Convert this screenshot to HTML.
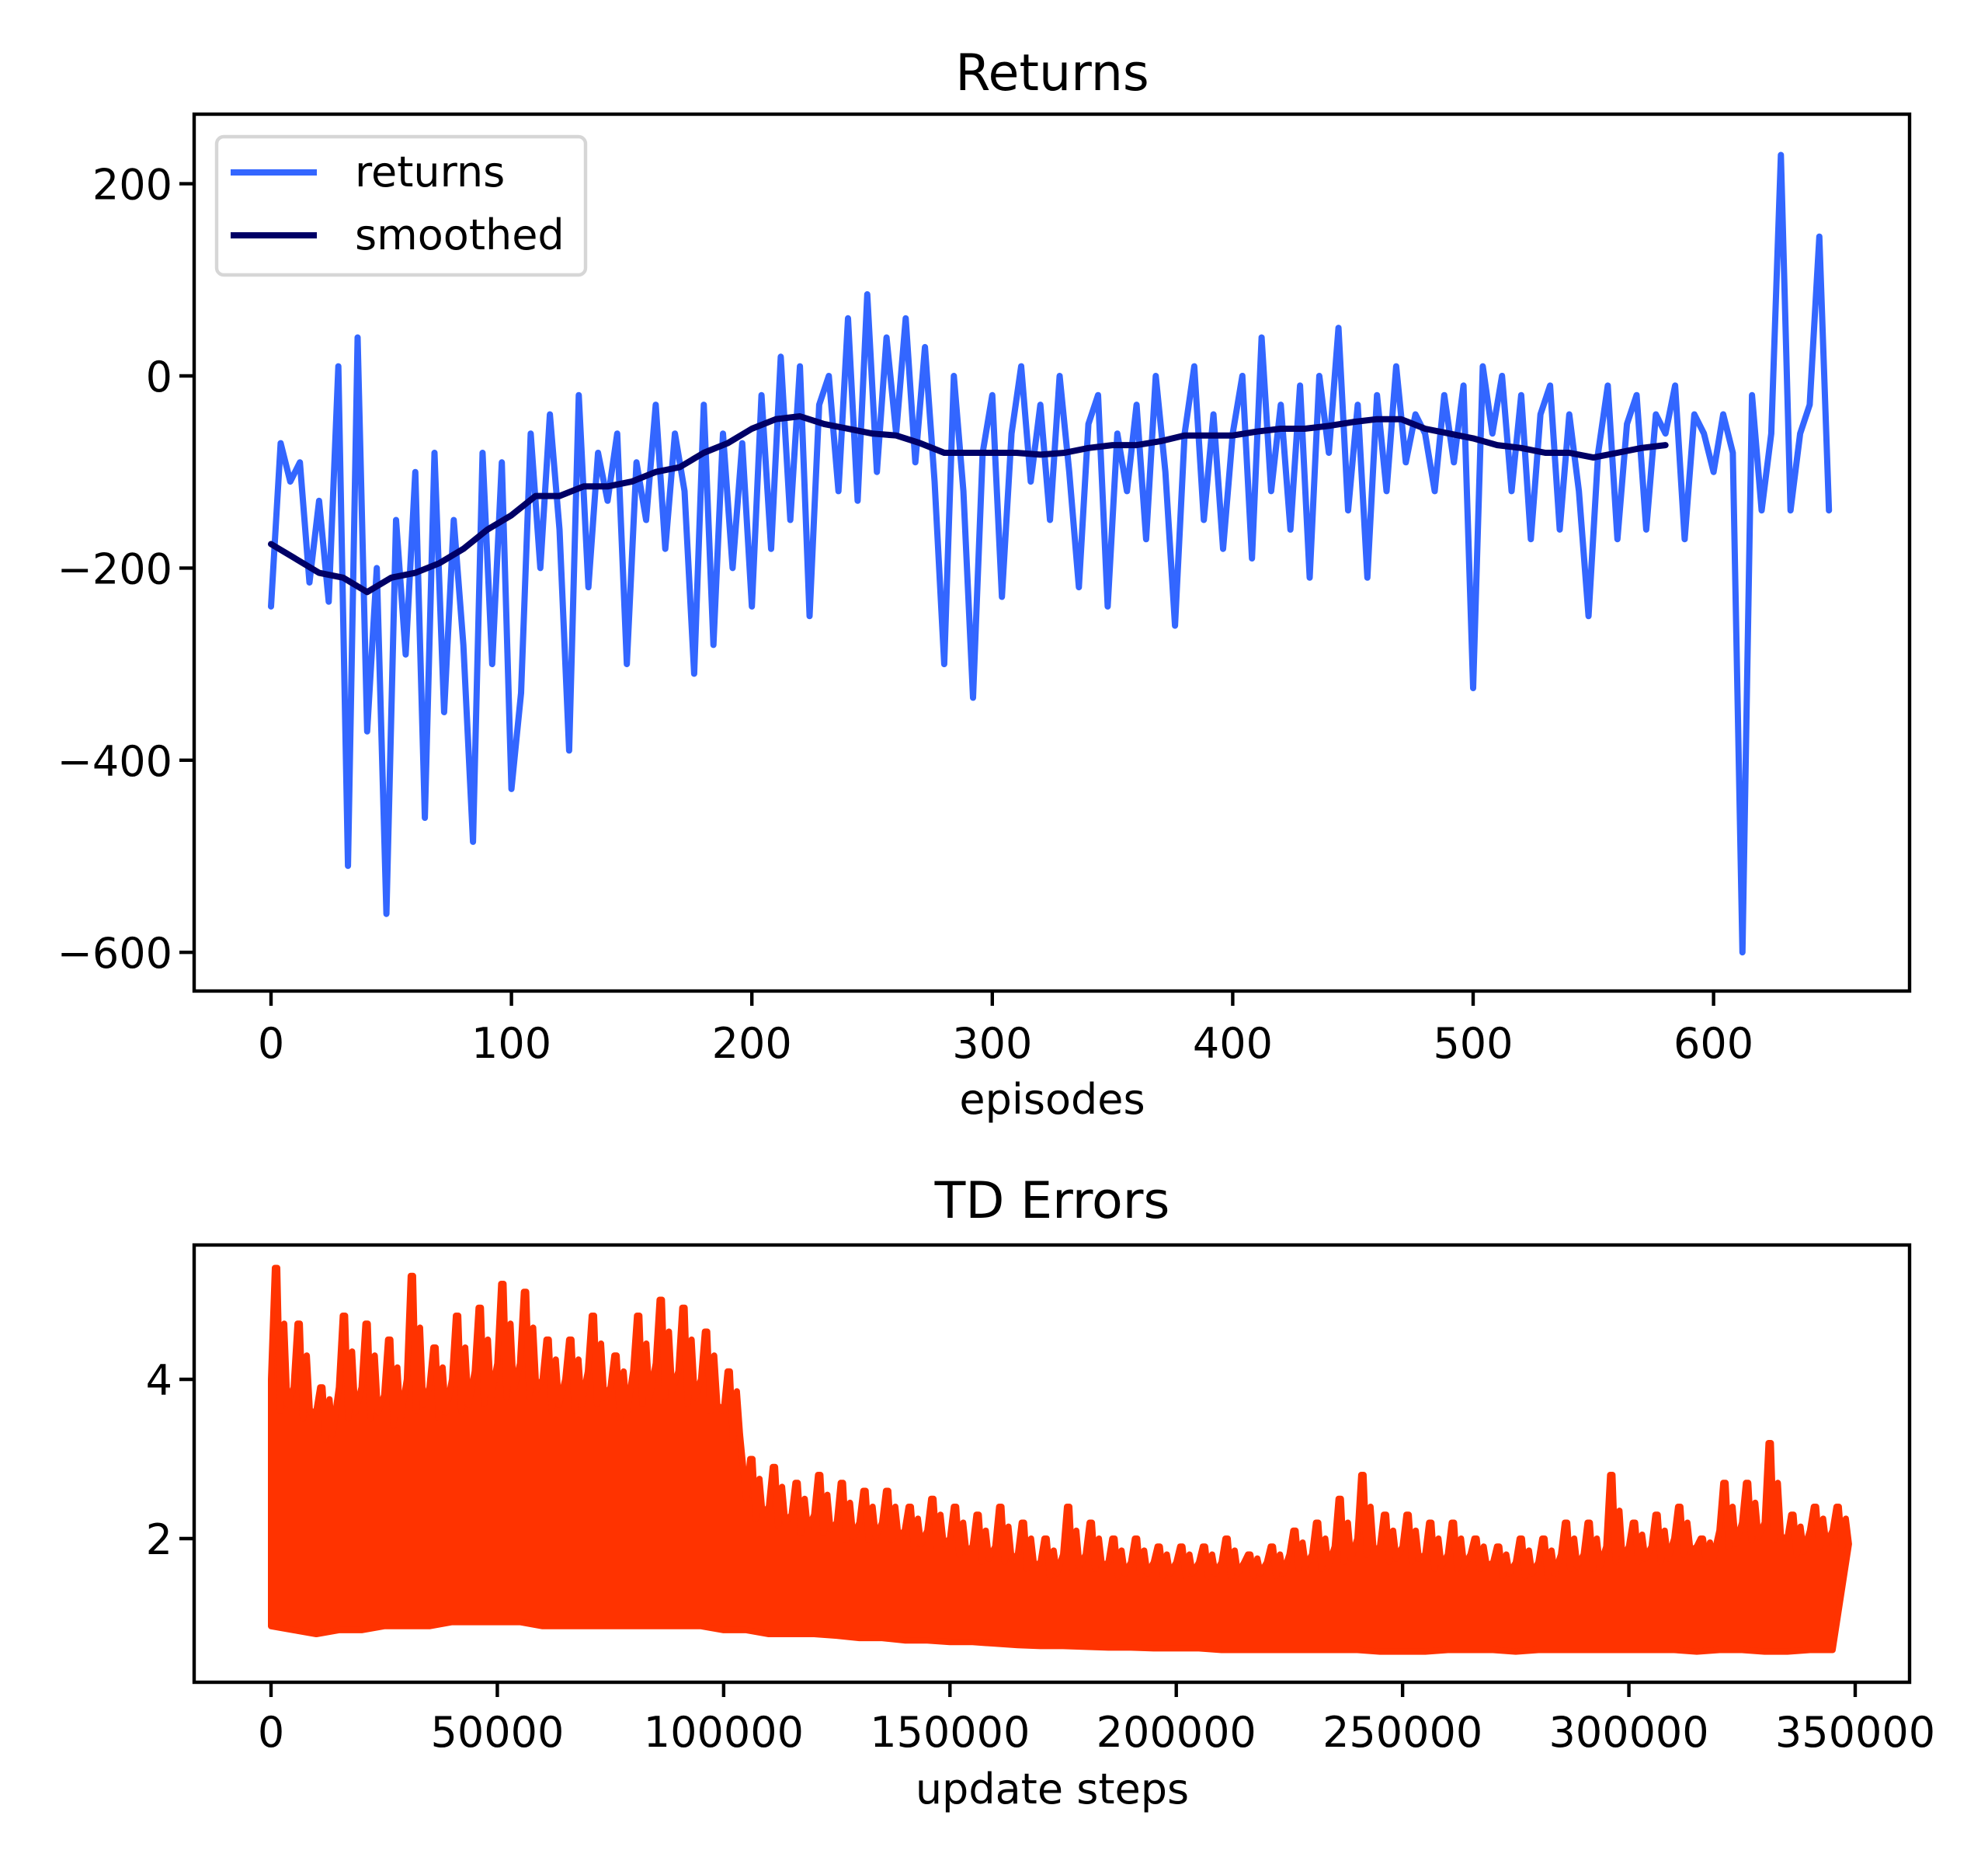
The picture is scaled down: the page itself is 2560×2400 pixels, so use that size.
<!DOCTYPE html>
<html><head><meta charset="utf-8"><style>
html,body{margin:0;padding:0;background:#fff}
svg{display:block}
text{font-family:"DejaVu Sans","Liberation Sans",sans-serif;fill:#000}
</style></head><body>
<svg id="fig" width="2560" height="2400" viewBox="0 0 2560 2400" xmlns="http://www.w3.org/2000/svg">
<rect width="2560" height="2400" fill="#fff"/>
<g id="topChart"></g>
<g id="botChart"></g>
</svg>
<script>
// ---------- Returns data ----------
const returnsStep = 4;
const returnsValues = [
-240,-70,-110,-90,-215,-130,-235,10,-510,40,-370,-200,-560,-150,-290,-100,-460,-80,-350,-150,-280,-485,-80,-300,-90,
-430,-330,-60,-200,-40,-160,-390,-20,-220,-80,-130,-60,-300,-90,-150,-30,-180,-60,-120,-310,-30,-280,-60,-200,-70,
-240,-20,-180,20,-150,10,-250,-30,0,-120,60,-130,85,-100,40,-60,60,-90,30,-110,-300,0,-120,-335,-80,
-20,-230,-60,10,-110,-30,-150,0,-100,-220,-50,-20,-240,-60,-120,-30,-170,0,-100,-260,-60,10,-150,-40,-180,
-60,0,-190,40,-120,-30,-160,-10,-210,0,-80,50,-140,-30,-210,-20,-120,10,-90,-40,-60,-120,-20,-90,-10,
-325,10,-60,0,-120,-20,-170,-40,-10,-160,-40,-120,-250,-80,-10,-170,-50,-20,-160,-40,-60,-10,-170,-40,-60,
-100,-40,-80,-600,-20,-140,-60,230,-140,-60,-30,145,-140
];
const smoothStep = 10;
const smoothValues = [
-175,-190,-205,-210,-225,-210,-205,-195,-180,-160,-145,-125,-125,-115,-115,-110,-100,-95,-80,-70,
-55,-45,-42,-50,-55,-60,-62,-70,-80,-80,-80,-80,-82,-80,-75,-72,-72,-68,-62,-62,
-62,-58,-55,-55,-52,-48,-45,-45,-55,-60,-65,-72,-75,-80,-80,-85,-80,-75,-72
];
const returnsXTicks = [0,100,200,300,400,500,600];
const returnsYTicks = [200,0,-200,-400,-600];

// ---------- TD error data ----------
const tdStep = 5000;
const tdUpper = [5.4,4.7,3.9,4.8,4.7,4.5,5.3,4.4,4.8,4.9,5.2,5.1,4.5,4.5,4.8,4.3,4.8,5.0,4.9,4.6,
4.1,3.0,2.9,2.7,2.8,2.7,2.6,2.6,2.4,2.5,2.4,2.3,2.4,2.2,2.0,2.4,2.2,2.0,2.0,1.9,
1.9,1.9,2.0,1.8,1.9,2.1,2.2,2.5,2.8,2.3,2.3,2.2,2.2,2.0,1.9,2.0,2.0,2.2,2.2,2.8,
2.2,2.3,2.4,2.0,2.7,2.7,3.2,2.3,2.4,2.4];
const tdDense = [4.0,3.9,3.6,3.9,3.9,3.8,4.0,3.9,4.0,4.1,4.2,4.2,4.0,4.0,4.1,3.9,4.1,4.2,4.1,4.0,
3.6,2.5,2.4,2.3,2.3,2.2,2.2,2.2,2.1,2.1,2.0,1.9,1.9,1.8,1.7,1.8,1.8,1.7,1.7,1.7,
1.7,1.7,1.7,1.7,1.7,1.8,1.8,1.9,2.0,1.9,1.9,1.8,1.8,1.8,1.7,1.7,1.7,1.8,1.8,1.9,
1.9,1.9,2.0,1.9,2.1,2.2,2.2,2.0,2.1,2.1];
const tdLower = [0.9,0.85,0.8,0.85,0.85,0.9,0.9,0.9,0.95,0.95,0.95,0.95,0.9,0.9,0.9,0.9,0.9,0.9,0.9,0.9,
0.85,0.85,0.8,0.8,0.8,0.78,0.75,0.75,0.72,0.72,0.7,0.7,0.68,0.66,0.65,0.65,0.64,0.63,0.63,0.62,
0.62,0.62,0.6,0.6,0.6,0.6,0.6,0.6,0.6,0.58,0.58,0.58,0.6,0.6,0.6,0.58,0.6,0.6,0.6,0.6,
0.6,0.6,0.6,0.58,0.6,0.6,0.58,0.58,0.6,0.6];
const tdXTicks = [0,50000,100000,150000,200000,250000,300000,350000];
const tdXTickLabels = ["0","50000","100000","150000","200000","250000","300000","350000"];
const tdYTicks = [2,4];

const NS="http://www.w3.org/2000/svg";
function mk(parent,tag,attrs){const e=document.createElementNS(NS,tag);for(const k in attrs)e.setAttribute(k,attrs[k]);parent.appendChild(e);return e;}

const xR=ep=>349+ep*3.096;
const yR=v=>484-v*1.237;
const xT=s=>349+s*(2389-349)/350000;
const yT=v=>2186-v*102.5;

const topG=document.getElementById('topChart');
const botG=document.getElementById('botChart');

// ---- Returns chart ----
let d='';
returnsValues.forEach((v,i)=>{d+=(i?'L':'M')+xR(i*returnsStep).toFixed(1)+' '+yR(v).toFixed(1);});
const rl=mk(topG,'path',{d:d,fill:'none',stroke:'#3366ff','stroke-width':8,'stroke-linejoin':'round','stroke-linecap':'round'});


d='';
smoothValues.forEach((v,i)=>{d+=(i?'L':'M')+xR(i*smoothStep).toFixed(1)+' '+yR(v).toFixed(1);});
const sl=mk(topG,'path',{d:d,fill:'none',stroke:'#000066','stroke-width':8,'stroke-linejoin':'round','stroke-linecap':'round'});



const ta=mk(topG,'rect',{x:250,y:147,width:2209,height:1129,fill:'none',stroke:'#000','stroke-width':4.4});



returnsXTicks.forEach(t=>{
  const x=xR(t);
  const tk=mk(topG,'line',{x1:x,y1:1276,x2:x,y2:1295,stroke:'#000','stroke-width':4.4});
  
  
  const tx=mk(topG,'text',{x:x,y:1362,'font-size':54,'text-anchor':'middle'});
  tx.textContent=String(t);
  
  
});
returnsYTicks.forEach(t=>{
  const y=yR(t);
  const tk=mk(topG,'line',{x1:231,y1:y,x2:250,y2:y,stroke:'#000','stroke-width':4.4});
  
  
  const tx=mk(topG,'text',{x:222,y:y+20,'font-size':54,'text-anchor':'end'});
  tx.textContent=(t<0?'\u2212'+(-t):String(t));
  
  
});
let t1=mk(topG,'text',{x:1355,y:116,'font-size':65,'text-anchor':'middle'});t1.textContent='Returns';


let xl1=mk(topG,'text',{x:1355,y:1434,'font-size':54,'text-anchor':'middle'});xl1.textContent='episodes';



// legend
const lg=mk(topG,'g',{});


mk(lg,'rect',{x:279,y:176,width:475,height:178,rx:9,fill:'#fff','fill-opacity':0.8,stroke:'#d6d6d6','stroke-width':4.4});
const le1=mk(lg,'line',{x1:297,y1:222,x2:408,y2:222,stroke:'#3366ff','stroke-width':8});


let lt=mk(lg,'text',{x:457,y:240,'font-size':54});lt.textContent='returns';


const le2=mk(lg,'line',{x1:297,y1:303,x2:408,y2:303,stroke:'#000066','stroke-width':8});


lt=mk(lg,'text',{x:457,y:321,'font-size':54});lt.textContent='smoothed';



// ---- TD errors chart ----
let pts=[];
tdUpper.forEach((u,i)=>{
  const x=xT(i*tdStep);
  pts.push([x,yT(tdDense[i])]);
  pts.push([x+5,yT(u)]);
  pts.push([x+8,yT(u)]);
  pts.push([x+12,yT(tdDense[i]*0.9)]);
  pts.push([x+17,yT((tdDense[i]+u)/2)]);
  pts.push([x+21,yT(tdDense[i]*0.92)]);
});
for(let i=tdLower.length-1;i>=0;i--){pts.push([xT(i*tdStep),yT(tdLower[i])]);}
const tf=mk(botG,'polygon',{points:pts.map(p=>p[0].toFixed(1)+','+p[1].toFixed(1)).join(' '),fill:'#ff3300',stroke:'#ff3300','stroke-width':8,'stroke-linejoin':'round'});



const ba=mk(botG,'rect',{x:250,y:1603,width:2209,height:563,fill:'none',stroke:'#000','stroke-width':4.4});


tdXTicks.forEach((t,i)=>{
  const x=xT(t);
  const tk=mk(botG,'line',{x1:x,y1:2166,x2:x,y2:2185,stroke:'#000','stroke-width':4.4});
  
  
  const tx=mk(botG,'text',{x:x,y:2249,'font-size':54,'text-anchor':'middle'});
  tx.textContent=tdXTickLabels[i];
  
  
});
tdYTicks.forEach(t=>{
  const y=yT(t);
  const tk=mk(botG,'line',{x1:231,y1:y,x2:250,y2:y,stroke:'#000','stroke-width':4.4});
  
  
  const tx=mk(botG,'text',{x:222,y:y+20,'font-size':54,'text-anchor':'end'});
  tx.textContent=String(t);
  
  
});
let t2=mk(botG,'text',{x:1355,y:1568,'font-size':65,'text-anchor':'middle'});t2.textContent='TD Errors';


let xl2=mk(botG,'text',{x:1355,y:2322,'font-size':54,'text-anchor':'middle'});xl2.textContent='update steps';


</script>
</body></html>
